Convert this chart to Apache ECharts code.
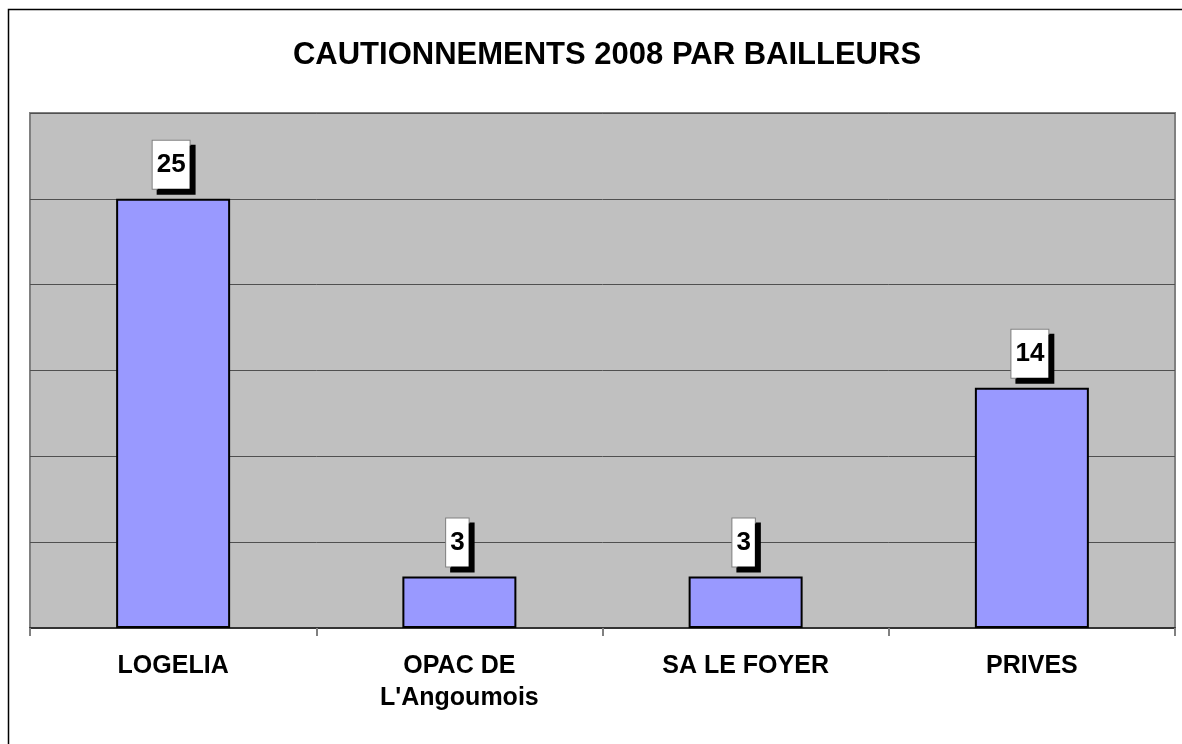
<!DOCTYPE html>
<html>
<head>
<meta charset="utf-8">
<script src="https://cdn.jsdelivr.net/npm/echarts@6/dist/echarts.min.js"></script>
<style>
html,body{margin:0;padding:0;background:#fff;}
#main{width:1182px;height:744px;}
</style>
</head>
<body>
<div id="main"></div>
<script>
var titleText = 'CAUTIONNEMENTS 2008 PAR BAILLEURS';
var categories = ['LOGELIA', "OPAC DE\nL'Angoumois", 'SA LE FOYER', 'PRIVES'];
var values = [25, 3, 3, 14];
var yMin = 0, yMax = 30, yInterval = 5;

var FONT = '"Liberation Sans", Arial, sans-serif';
var chart = echarts.init(document.getElementById('main'), null, {renderer: 'canvas'});
chart.setOption({
  animation: false,
  backgroundColor: '#ffffff',
  title: {
    text: titleText,
    left: 602,
    top: 35,
    textAlign: 'center',
    textStyle: {fontFamily: FONT, fontSize: 31, fontWeight: 'bold', color: '#000'}
  },
  graphic: [{
    type: 'rect',
    shape: {x: 8.5, y: 9.5, width: 1300, height: 1000},
    style: {fill: 'none', stroke: '#000', lineWidth: 1.5},
    silent: true,
    z: 100
  }],
  grid: {
    left: 30, right: 7, top: 113, bottom: 116,
    show: true,
    backgroundColor: '#C0C0C0',
    borderColor: '#808080',
    borderWidth: 2
  },
  xAxis: {
    type: 'category',
    data: categories,
    axisLine: {show: true, lineStyle: {color: '#333', width: 2}},
    axisTick: {show: true, length: 8, lineStyle: {color: '#808080', width: 2}},
    axisLabel: {
      fontFamily: FONT, fontSize: 25, fontWeight: 'bold', color: '#000',
      lineHeight: 32, margin: 22, interval: 0
    }
  },
  yAxis: {
    type: 'value',
    min: yMin, max: yMax, interval: yInterval,
    axisLine: {show: false},
    axisTick: {show: false},
    axisLabel: {show: false},
    splitLine: {show: true, lineStyle: {color: '#505050', width: 1}}
  },
  series: [{
    type: 'bar',
    data: values,
    barWidth: 114,
    itemStyle: {color: '#9999FF', borderColor: '#000', borderWidth: 2},
    label: {
      show: true,
      position: 'top',
      distance: 10,
      offset: [-2, 0],
      fontFamily: FONT, fontSize: 26, fontWeight: 'bold', color: '#000',
      lineHeight: 26,
      backgroundColor: '#fff',
      borderColor: '#808080',
      borderWidth: 1,
      padding: [11, 4],
      shadowColor: '#000',
      shadowBlur: 0,
      shadowOffsetX: 5,
      shadowOffsetY: 5
    }
  }]
});
</script>
</body>
</html>
